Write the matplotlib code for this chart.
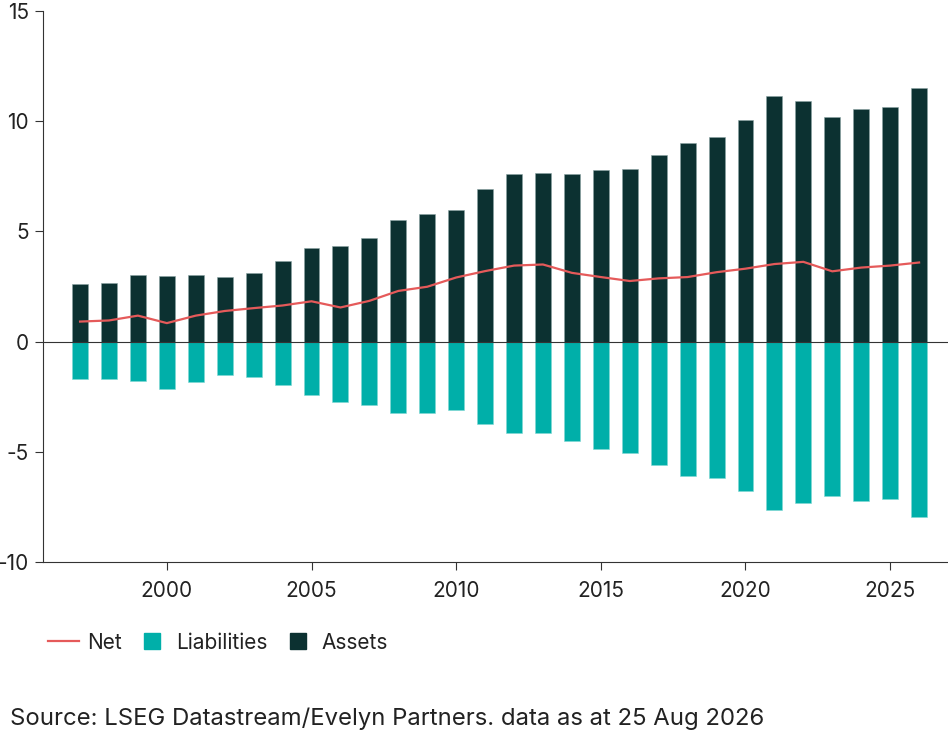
import matplotlib
matplotlib.use('Agg')
import matplotlib.pyplot as plt
from matplotlib.lines import Line2D

plt.rcParams['font.family'] = ['Inter', 'DejaVu Sans']

years = list(range(1997, 2027))
assets = [2.61, 2.67, 3.03, 2.98, 3.03, 2.91, 3.10, 3.64, 4.23, 4.32,
          4.70, 5.52, 5.78, 5.99, 6.93, 7.61, 7.65, 7.61, 7.77, 7.82,
          8.48, 8.99, 9.30, 10.05, 11.15, 10.92, 10.17, 10.57, 10.63, 11.53]
liabilities = [-1.71, -1.71, -1.79, -2.14, -1.83, -1.53, -1.62, -1.97, -2.40, -2.75,
               -2.87, -3.22, -3.22, -3.10, -3.75, -4.13, -4.16, -4.51, -4.86, -5.07,
               -5.59, -6.08, -6.17, -6.78, -7.65, -7.30, -7.00, -7.21, -7.16, -7.96]
net = [0.91, 0.96, 1.18, 0.84, 1.18, 1.39, 1.52, 1.64, 1.83, 1.55,
       1.85, 2.30, 2.49, 2.91, 3.20, 3.45, 3.50, 3.12, 2.93, 2.75,
       2.87, 2.93, 3.15, 3.31, 3.52, 3.62, 3.19, 3.36, 3.45, 3.59]

c_assets = '#0c3131'
c_liab = '#00afa9'
c_net = '#e55a5a'
c_text = '#222222'

fig = plt.figure(figsize=(9.48, 7.36), dpi=100)
ax = fig.add_axes([0.0454, 0.2364, 0.9546, 0.7486])

ax.bar(years, assets, width=0.55, color=c_assets, edgecolor='#8aa3a3', linewidth=0.4, zorder=2)
ax.bar(years, liabilities, width=0.55, color=c_liab, edgecolor='#7fd8d4', linewidth=0.4, zorder=2)
ax.axhline(0, color='#333333', linewidth=0.8, zorder=3)
ax.plot(years, net, color=c_net, linewidth=1.6, zorder=4)

ax.set_xlim(1995.72, 2027.0)
ax.set_ylim(-10, 15)
ax.set_yticks([-10, -5, 0, 5, 10, 15])
ax.set_yticklabels(['-10', '-5', '0', '5', '10', '15'])
ax.set_xticks([2000, 2005, 2010, 2015, 2020, 2025])

for s in ['top', 'right']:
    ax.spines[s].set_visible(False)
for s in ['left', 'bottom']:
    ax.spines[s].set_color('#333333')
    ax.spines[s].set_linewidth(0.8)
ax.tick_params(axis='both', colors='#333333', labelcolor=c_text, labelsize=15,
               length=6, width=0.8)
ax.tick_params(axis='x', pad=8)
ax.tick_params(axis='y', pad=4)

# legend: line for Net, small squares for the bars
handles = [Line2D([0], [0], color=c_net, linewidth=1.6),
           Line2D([0], [0], marker='s', linestyle='none', markersize=11,
                  markerfacecolor=c_liab, markeredgecolor=c_liab),
           Line2D([0], [0], marker='s', linestyle='none', markersize=11,
                  markerfacecolor=c_assets, markeredgecolor=c_assets)]
fig.legend(handles, ['Net', 'Liabilities', 'Assets'], loc='center left',
           bbox_to_anchor=(0.046, 0.127), ncol=3, frameon=False, fontsize=15,
           handlelength=1.5, handletextpad=0.4, columnspacing=0.7,
           borderaxespad=0, borderpad=0.2, labelcolor=c_text)

fig.text(0.011, 0.023, 'Source: LSEG Datastream/Evelyn Partners. data as at 25 Aug 2026',
         fontsize=17.2, color=c_text, ha='left', va='center')

fig.savefig('out.png', dpi=100)
